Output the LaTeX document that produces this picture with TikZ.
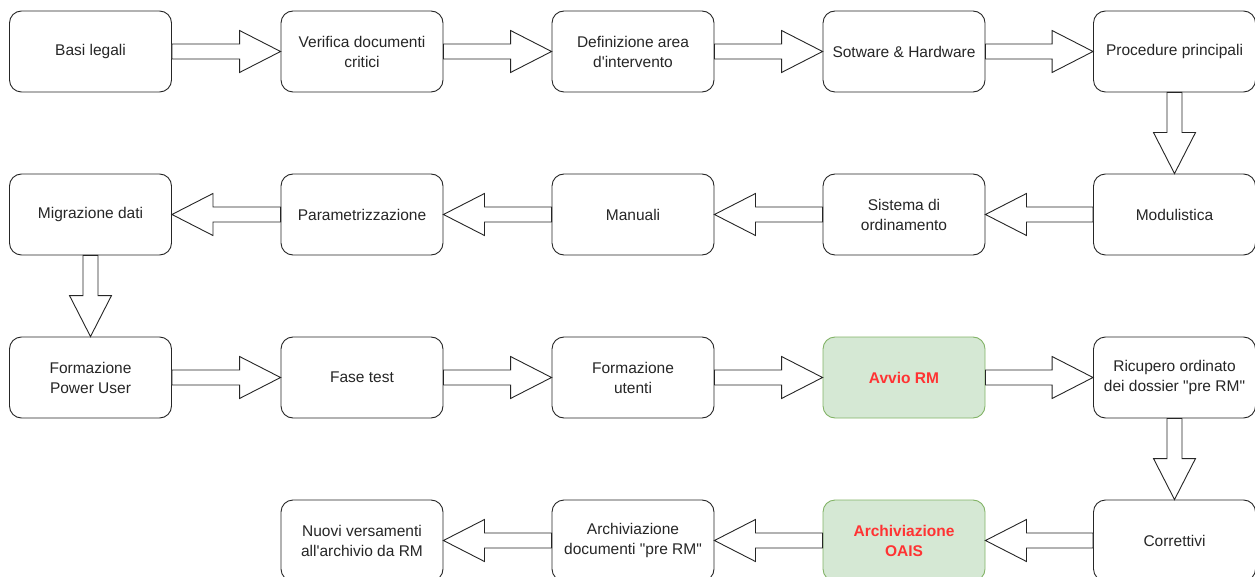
\documentclass[tikz,border=0pt]{standalone}
\usepackage{fontspec}
\setmainfont{Liberation Sans}[Ligatures=TeXOff]
\usetikzlibrary{calc}
\definecolor{gfill}{HTML}{D5E8D4}
\definecolor{gline}{HTML}{82B366}
\definecolor{rtext}{HTML}{FF3333}
\tikzset{
  box/.style={draw=black!85, line width=0.9pt, rounded corners=12pt, fill=white,
    minimum width=162pt, minimum height=81pt, align=center,
    font=\fontsize{15.5}{20}\selectfont, text=black!85, inner sep=2pt},
  hbox/.style={box, fill=gfill, draw=gline, text=rtext, font=\fontsize{15.5}{20}\selectfont\bfseries},
  flexstyle/.style={draw=black!85, line width=0.9pt, fill=white, line join=miter}
}
\newcommand\flexarrow[2]{%
  \coordinate (fa-a) at (#1);
  \coordinate (fa-b) at (#2);
  \coordinate (fa-h) at ($(fa-b)!41pt!(fa-a)$);
  \draw[flexstyle] ($(fa-a)!7.5pt!90:(fa-b)$) -- ($(fa-h)!7.5pt!-90:(fa-a)$)
    -- ($(fa-h)!21pt!-90:(fa-a)$) -- (fa-b) -- ($(fa-h)!21pt!90:(fa-a)$)
    -- ($(fa-h)!7.5pt!90:(fa-a)$) -- ($(fa-a)!7.5pt!-90:(fa-b)$) -- cycle;
}
\begin{document}
\begin{tikzpicture}[x=1pt,y=-1pt]
\useasboundingbox (0,0) rectangle (1255,577);
\clip (0,0) rectangle (1255,577);
% row 1
\node[box] (n11) at (90.5,51.5) {Basi legali};
\node[box] (n12) at (362,51.5) {Verifica documenti\\critici};
\node[box] (n13) at (633,51.5) {Definizione area\\d'intervento};
\node[box] (n14) at (904,51.5) {Sotware \& Hardware};
\node[box] (n15) at (1174.5,51.5) {Procedure principali};
% row 2
\node[box] (n21) at (90.5,214.5) {Migrazione dati};
\node[box] (n22) at (362,214.5) {Parametrizzazione};
\node[box] (n23) at (633,214.5) {Manuali};
\node[box] (n24) at (904,214.5) {Sistema di\\ordinamento};
\node[box] (n25) at (1174.5,214.5) {Modulistica};
% row 3
\node[box] (n31) at (90.5,377.5) {Formazione\\Power User};
\node[box] (n32) at (362,377.5) {Fase test};
\node[box] (n33) at (633,377.5) {Formazione\\utenti};
\node[hbox] (n34) at (904,377.5) {Avvio RM};
\node[box] (n35) at (1174.5,377.5) {Ricupero ordinato\\dei dossier "pre RM"};
% row 4
\node[box] (n42) at (362,540.5) {Nuovi versamenti\\all'archivio da RM};
\node[box] (n43) at (633,540.5) {Archiviazione\\documenti "pre RM"};
\node[hbox] (n44) at (904,540.5) {Archiviazione\\OAIS};
\node[box] (n45) at (1174.5,540.5) {Correttivi};
% arrows
\flexarrow{n11.east}{n12.west}
\flexarrow{n12.east}{n13.west}
\flexarrow{n13.east}{n14.west}
\flexarrow{n14.east}{n15.west}
\flexarrow{n15.south}{n25.north}
\flexarrow{n25.west}{n24.east}
\flexarrow{n24.west}{n23.east}
\flexarrow{n23.west}{n22.east}
\flexarrow{n22.west}{n21.east}
\flexarrow{n21.south}{n31.north}
\flexarrow{n31.east}{n32.west}
\flexarrow{n32.east}{n33.west}
\flexarrow{n33.east}{n34.west}
\flexarrow{n34.east}{n35.west}
\flexarrow{n35.south}{n45.north}
\flexarrow{n45.west}{n44.east}
\flexarrow{n44.west}{n43.east}
\flexarrow{n43.west}{n42.east}
\end{tikzpicture}
\end{document}
